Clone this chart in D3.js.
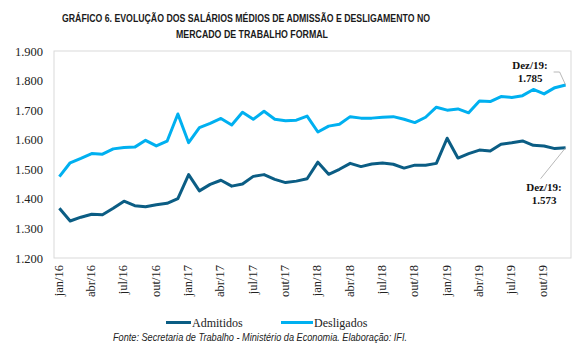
<!DOCTYPE html>
<html>
<head>
<meta charset="utf-8">
<script src="https://cdn.jsdelivr.net/npm/d3@7.9.0/dist/d3.min.js"></script>
<style>
  body { margin: 0; background: #fff; }
  svg { display: block; }
</style>
</head>
<body>
<div id="chart"></div>
<script>
const monthNames = ['jan', 'fev', 'mar', 'abr', 'mai', 'jun', 'jul', 'ago', 'set', 'out', 'nov', 'dez'];
const years = ['16', '17', '18', '19'];
const months = years.flatMap(y => monthNames.map(m => m + '/' + y));

const admitidos = [
  1368, 1325, 1338, 1348, 1346, 1368, 1392, 1377, 1373, 1380, 1385, 1401,
  1482, 1427, 1449, 1463, 1443, 1450, 1476, 1482, 1466, 1455, 1460, 1468,
  1524, 1483, 1500, 1520, 1509, 1518, 1521, 1517, 1504, 1514, 1514, 1520,
  1605, 1538, 1553, 1565, 1562, 1585, 1590, 1596, 1581, 1579, 1570, 1573
];
const desligados = [
  1475, 1522, 1537, 1553, 1551, 1569, 1574, 1575, 1598, 1579, 1595, 1687,
  1590, 1641, 1655, 1672, 1650, 1693, 1669, 1696, 1669, 1664, 1666, 1680,
  1626, 1646, 1652, 1678, 1673, 1673, 1676, 1678, 1669, 1658, 1676, 1710,
  1700, 1704, 1691, 1731, 1729, 1746, 1743, 1749, 1770, 1755, 1776, 1785
];
const yTicks = [1200, 1300, 1400, 1500, 1600, 1700, 1800, 1900];

const width = 582, height = 363;
const plot = { left: 54, right: 571, top: 51, bottom: 258 };
const colors = { adm: '#0b5d84', des: '#00b0f0' };
const fmt = d3.format(',.0f');
const ptBR = v => fmt(v).replace(/,/g, '.');

const svg = d3.select('#chart').append('svg')
  .attr('width', width).attr('height', height);

// title
const title = svg.append('g')
  .attr('font-family', 'Liberation Sans, Arial, sans-serif')
  .attr('font-weight', 'bold')
  .attr('font-size', 10.5)
  .attr('fill', '#1a1a1a')
  .attr('text-anchor', 'middle');
title.append('text').attr('x', 246).attr('y', 22)
  .attr('textLength', 368).attr('lengthAdjust', 'spacingAndGlyphs')
  .text('GRÁFICO 6. EVOLUÇÃO DOS SALÁRIOS MÉDIOS DE ADMISSÃO E DESLIGAMENTO NO');
title.append('text').attr('x', 252).attr('y', 38)
  .attr('textLength', 152).attr('lengthAdjust', 'spacingAndGlyphs')
  .text('MERCADO DE TRABALHO FORMAL');

const x = d3.scalePoint().domain(months).range([plot.left, plot.right]).padding(0.5);
const y = d3.scaleLinear().domain([1200, 1900]).range([plot.bottom, plot.top]);

// frame
svg.append('rect')
  .attr('x', plot.left).attr('y', plot.top)
  .attr('width', plot.right - plot.left).attr('height', plot.bottom - plot.top)
  .attr('fill', 'none').attr('stroke', '#d9d9d9').attr('stroke-width', 1);

// y axis
const yAxis = svg.append('g')
  .attr('transform', `translate(${plot.left - 11},0)`)
  .call(d3.axisLeft(y).tickValues(yTicks).tickFormat(ptBR).tickSize(0).tickPadding(0));
yAxis.select('.domain').remove();
yAxis.selectAll('text')
  .attr('font-family', 'Liberation Serif, serif')
  .attr('font-size', 12.5)
  .attr('fill', '#222');

// x axis (every 3 months)
const xAxis = svg.append('g')
  .attr('transform', `translate(0,${plot.bottom})`)
  .call(d3.axisBottom(x).tickValues(months.filter((d, i) => i % 3 === 0)).tickSize(0));
xAxis.select('.domain').remove();
xAxis.selectAll('text')
  .attr('font-family', 'Liberation Serif, serif')
  .attr('font-size', 12.5)
  .attr('fill', '#222')
  .attr('text-anchor', 'end')
  .attr('dy', null)
  .attr('transform', 'translate(0,7) rotate(-90)')
  .attr('x', 0).attr('y', 0)
  .attr('dominant-baseline', 'middle');

// lines
const line = d3.line().x((d, i) => x(months[i])).y(d => y(d));
svg.append('path').datum(desligados)
  .attr('d', line).attr('fill', 'none')
  .attr('stroke', colors.des).attr('stroke-width', 3).attr('stroke-linejoin', 'round');
svg.append('path').datum(admitidos)
  .attr('d', line).attr('fill', 'none')
  .attr('stroke', colors.adm).attr('stroke-width', 3).attr('stroke-linejoin', 'round');

// end annotations
const lastX = x(months[months.length - 1]);
const lastDes = y(desligados[desligados.length - 1]);
const lastAdm = y(admitidos[admitidos.length - 1]);
svg.append('path')
  .attr('d', `M${lastX - 12},${lastDes - 13} H${lastX - 6} L${lastX},${lastDes}`)
  .attr('fill', 'none').attr('stroke', '#a6a6a6').attr('stroke-width', 0.8);
svg.append('path')
  .attr('d', `M${lastX - 25},${lastAdm + 31} L${lastX},${lastAdm}`)
  .attr('fill', 'none').attr('stroke', '#a6a6a6').attr('stroke-width', 0.8);

const ann = svg.append('g')
  .attr('font-family', 'Liberation Serif, serif')
  .attr('font-weight', 'bold')
  .attr('font-size', 11)
  .attr('fill', '#111')
  .attr('text-anchor', 'middle');
ann.append('text').attr('x', 530).attr('y', 68.5).text('Dez/19:');
ann.append('text').attr('x', 530).attr('y', 81.5).text(ptBR(desligados[desligados.length - 1]));
ann.append('text').attr('x', 544).attr('y', 190.5).text('Dez/19:');
ann.append('text').attr('x', 544).attr('y', 204).text(ptBR(admitidos[admitidos.length - 1]));

// legend
const legend = svg.append('g')
  .attr('font-family', 'Liberation Serif, serif')
  .attr('font-size', 12)
  .attr('fill', '#222');
[
  { name: 'Admitidos', color: colors.adm, x0: 166, x1: 191 },
  { name: 'Desligados', color: colors.des, x0: 281, x1: 313 }
].forEach(d => {
  legend.append('line')
    .attr('x1', d.x0).attr('x2', d.x1).attr('y1', 322.5).attr('y2', 322.5)
    .attr('stroke', d.color).attr('stroke-width', 3);
  legend.append('text').attr('x', d.x1 + 1).attr('y', 326.5).text(d.name);
});

// source
svg.append('text')
  .attr('x', 260).attr('y', 341)
  .attr('text-anchor', 'middle')
  .attr('font-family', 'Liberation Sans, Arial, sans-serif')
  .attr('font-style', 'italic')
  .attr('font-size', 10)
  .attr('fill', '#222')
  .attr('textLength', 294).attr('lengthAdjust', 'spacingAndGlyphs')
  .text('Fonte: Secretaria de Trabalho - Ministério da Economia. Elaboração: IFI.');
</script>
</body>
</html>
